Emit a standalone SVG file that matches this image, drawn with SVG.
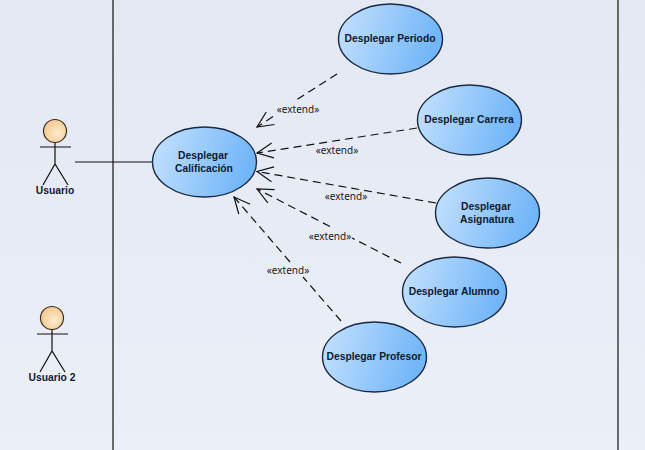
<svg xmlns="http://www.w3.org/2000/svg" width="645" height="450" viewBox="0 0 645 450">
<defs>
<linearGradient id="bg" x1="0" y1="0" x2="0" y2="1"><stop offset="0" stop-color="#e4e8f2"/><stop offset="1" stop-color="#ebeff8"/></linearGradient>
<linearGradient id="uc" x1="0" y1="0" x2="1" y2="0.2"><stop offset="0" stop-color="#c6e2fd"/><stop offset="1" stop-color="#72b6f8"/></linearGradient>
<radialGradient id="head" cx="0.6" cy="0.6" r="0.65"><stop offset="0" stop-color="#fdeccd"/><stop offset="1" stop-color="#f3c68c"/></radialGradient>
<marker id="open" markerUnits="userSpaceOnUse" viewBox="-17 -9 19 18" refX="0" refY="0" markerWidth="19" markerHeight="18" orient="auto-start-reverse"><path d="M-16 -7.500L0 0L-16 7.500" fill="none" stroke="#111" stroke-width="1.200"/></marker>
</defs>
<style>
.uc{fill:url(#uc);stroke:#1a2a44;stroke-width:1.400}
.t{font-family:"Liberation Sans",Arial,sans-serif;font-weight:700;font-size:10.300px;fill:#0e1a30;text-anchor:middle}
.s{font-family:"Noto Sans",sans-serif;font-size:10px;fill:#1a1a1a;text-anchor:middle}
.a{fill:none;stroke:#111;stroke-width:1.200}
.d{fill:none;stroke:#111;stroke-width:1.200;stroke-dasharray:8 5}
.h{fill:url(#head);stroke:#3a3020;stroke-width:1.200}
</style>
<rect width="645" height="450" fill="url(#bg)"/>
<g id="boundary"><line x1="113" y1="0" x2="113" y2="450" stroke="#111" stroke-width="1.200"/><line x1="618" y1="0" x2="618" y2="450" stroke="#111" stroke-width="1.200"/></g>
<g id="connectors">
<line class="a" x1="75" y1="162" x2="152" y2="162"/>
<path class="d" d="M337 74L293 102"/><path class="d" d="M273 116.500L257 127" marker-end="url(#open)"/>
<path class="d" d="M417 128L257 153" marker-end="url(#open)"/>
<path class="d" d="M436 203L257 171.500" marker-end="url(#open)"/>
<path class="d" d="M401 263L352 238"/><path class="d" d="M330 226.500L257 189" marker-end="url(#open)"/>
<path class="d" d="M341 321L303 277"/><path class="d" d="M290 262L234 197" marker-end="url(#open)"/>
</g>
<g id="label-periodo"><text class="s" x="298" y="113">«extend»</text></g>
<g id="label-carrera"><text class="s" x="337" y="154">«extend»</text></g>
<g id="label-asignatura"><text class="s" x="346" y="200">«extend»</text></g>
<g id="label-alumno"><text class="s" x="330" y="240">«extend»</text></g>
<g id="label-profesor"><text class="s" x="288" y="274">«extend»</text></g>
<g id="actor-usuario"><circle class="h" cx="55" cy="131" r="11.500"/><path class="a" d="M40 147H71M55 142.500V164M43 185L55 164L68 185"/><text class="t" x="55" y="194">Usuario</text></g>
<g id="actor-usuario2"><circle class="h" cx="52" cy="318" r="11.500"/><path class="a" d="M37 334H68M52 329.500V351M40 372L52 351L65 372"/><text class="t" x="52" y="381">Usuario 2</text></g>
<g id="uc-calificacion"><ellipse class="uc" cx="204.500" cy="162" rx="52" ry="35"/><text class="t" x="203" y="159">Desplegar</text><text class="t" x="204" y="172">Calificación</text></g>
<g id="uc-periodo"><ellipse class="uc" cx="390.500" cy="39" rx="52" ry="35"/><text class="t" x="390" y="42">Desplegar Periodo</text></g>
<g id="uc-carrera"><ellipse class="uc" cx="469.500" cy="120" rx="52" ry="35"/><text class="t" x="469" y="123">Desplegar Carrera</text></g>
<g id="uc-asignatura"><ellipse class="uc" cx="487.500" cy="213" rx="52" ry="35"/><text class="t" x="486" y="210">Desplegar</text><text class="t" x="487" y="223">Asignatura</text></g>
<g id="uc-alumno"><ellipse class="uc" cx="454.500" cy="292" rx="52" ry="35"/><text class="t" x="454" y="295">Desplegar Alumno</text></g>
<g id="uc-profesor"><ellipse class="uc" cx="374.500" cy="357" rx="52" ry="35"/><text class="t" x="374" y="360">Desplegar Profesor</text></g>
</svg>
